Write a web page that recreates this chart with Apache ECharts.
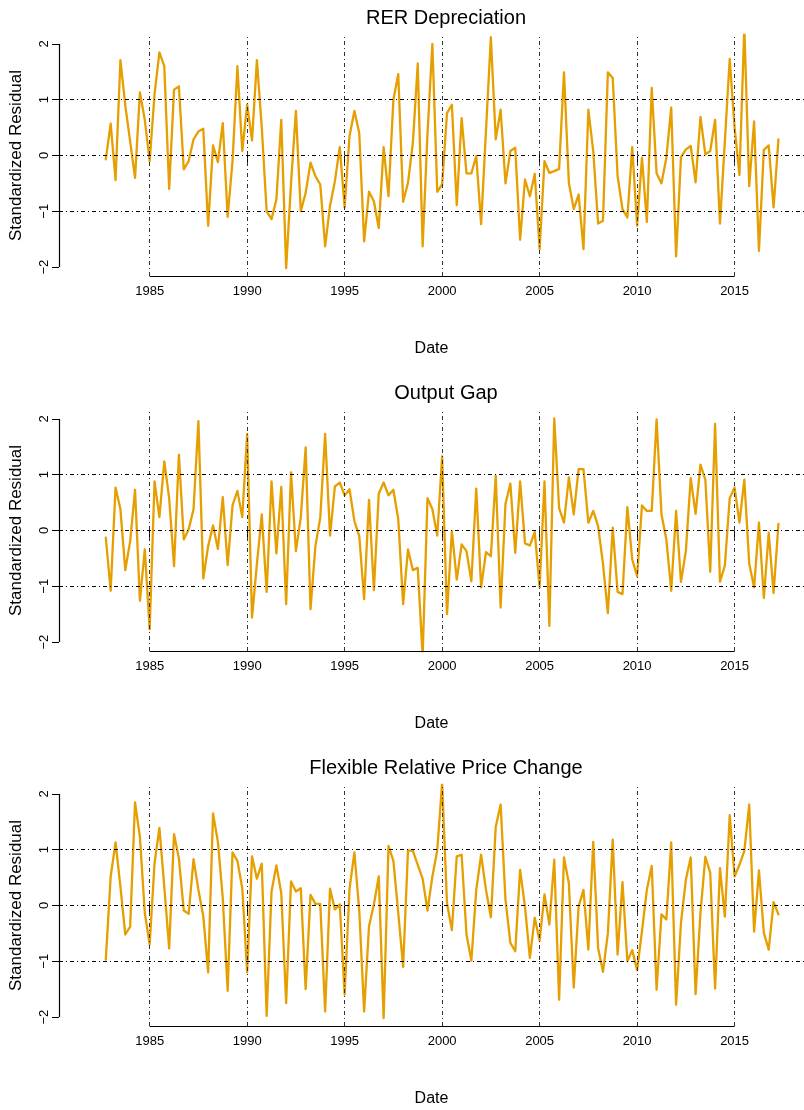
<!DOCTYPE html>
<html>
<head>
<meta charset="utf-8">
<script src="https://cdn.jsdelivr.net/npm/echarts@6/dist/echarts.min.js"></script>
<style>
html,body{margin:0;padding:0;background:#fff;}
#chart{width:804px;height:1110px;}
</style>
</head>
<body>
<div id="chart"></div>
<script>
// Quarterly residuals, 1982Q4 .. 2017Q2
const START_YEAR = 1982.75;
const rerDepreciation = [
-0.07,0.57,-0.44,1.71,0.9,0.25,-0.4,1.13,0.64,-0.10,
1.1,1.85,1.6,-0.6,1.18,1.24,-0.25,-0.1,0.29,0.43,
0.48,-1.26,0.18,-0.12,0.58,-1.1,-0.1,1.6,0.08,0.91,
0.27,1.71,0.5,-1.0,-1.14,-0.79,0.64,-2.02,-0.5,0.80,
-1.0,-0.67,-0.13,-0.37,-0.52,-1.63,-0.9,-0.46,0.15,-0.93,
0.35,0.80,0.40,-1.54,-0.65,-0.82,-1.30,0.15,-0.73,1.0,
1.46,-0.83,-0.49,0.23,1.65,-1.63,0.4,2.0,-0.65,-0.52,
0.76,0.91,-0.89,0.67,-0.32,-0.32,-0.01,-1.23,0.45,2.12,
0.29,0.82,-0.5,0.08,0.14,-1.51,-0.43,-0.73,-0.33,-1.68,
-0.1,-0.31,-0.28,-0.24,1.49,-0.49,-0.96,-0.70,-1.68,0.82,
0.08,-1.22,-1.17,1.49,1.39,-0.37,-0.96,-1.11,0.15,-1.26,
-0.04,-1.19,1.21,-0.32,-0.5,-0.04,0.86,-1.81,-0.03,0.11,
0.17,-0.48,0.69,0.02,0.08,0.64,-1.22,0.25,1.73,0.5,
-0.35,2.3,-0.55,0.61,-1.71,0.1,0.18,-0.93,0.29
];
const outputGap = [
-0.13,-1.08,0.77,0.38,-0.71,-0.19,0.73,-1.26,-0.34,-1.77,
0.88,0.24,1.24,0.58,-0.64,1.36,-0.16,0.02,0.38,1.96,
-0.86,-0.28,0.09,-0.33,0.6,-0.62,0.45,0.71,0.24,1.73,
-1.56,-0.6,0.29,-1.1,0.88,-0.41,0.78,-1.32,1.04,-0.37,
0.23,1.49,-1.41,-0.28,0.23,1.73,-0.09,0.79,0.86,0.63,
0.74,0.17,-0.1,-1.23,0.55,-1.07,0.66,0.86,0.63,0.73,
0.2,-1.32,-0.34,-0.71,-0.67,-2.25,0.58,0.38,-0.09,1.33,
-1.5,-0.01,-0.88,-0.25,-0.37,-0.91,0.75,-1.02,-0.39,-0.46,
0.98,-1.38,0.48,0.84,-0.4,0.88,-0.23,-0.27,-0.03,-1.02,
0.88,-1.71,2.01,0.4,0.14,0.95,0.29,1.1,1.1,0.14,
0.35,0.08,-0.6,-1.48,0.05,-1.1,-1.14,0.42,-0.52,-0.82,
0.45,0.35,0.35,1.99,0.29,-0.16,-1.08,0.35,-0.92,-0.37,
0.94,0.30,1.18,0.91,-0.74,1.91,-0.92,-0.63,0.58,0.77,
0.14,0.91,-0.59,-1.02,0.14,-1.21,-0.04,-1.12,0.12
];
const flexRelPriceChange = [
-0.97,0.52,1.13,0.34,-0.52,-0.38,1.85,1.23,-0.13,-0.70,
0.76,1.39,0.34,-0.77,1.28,0.84,-0.09,-0.15,0.83,0.28,
-0.19,-1.2,1.65,1.14,0.13,-1.53,0.95,0.8,0.31,-1.2,
0.88,0.48,0.75,-1.98,0.25,0.72,0.22,-1.75,0.43,0.25,
0.31,-1.5,0.19,0.03,0.03,-1.9,0.3,-0.07,0.02,-1.6,
0.3,0.95,-0.09,-1.9,-0.37,0.02,0.52,-2.02,1.07,0.8,
-0.13,-1.1,0.99,0.98,0.73,0.48,-0.09,0.52,0.99,2.2,
0.04,-0.44,0.88,0.91,-0.52,-0.99,0.28,0.91,0.28,-0.21,
1.41,1.81,0.1,-0.67,-0.82,0.64,-0.02,-0.94,-0.22,-0.63,
0.2,-0.34,0.82,-1.69,0.86,0.4,-1.47,-0.02,0.28,-0.79,
1.14,-0.76,-1.19,-0.5,1.18,-0.88,0.42,-1.0,-0.8,-1.16,
-0.46,0.28,0.71,-1.51,-0.16,-0.25,1.13,-1.78,-0.31,0.46,
0.86,-1.59,-0.13,0.87,0.59,-1.49,0.67,-0.2,1.62,0.52,
0.73,0.98,1.81,-0.47,0.63,-0.49,-0.79,0.06,-0.16
];
const panelTitles = ["RER Depreciation", "Output Gap", "Flexible Relative Price Change"];
const xTicks = [1985, 1990, 1995, 2000, 2005, 2010, 2015];
const yTicks = [-2, -1, 0, 1, 2];
const hLines = [-1, 0, 1];
const xLabel = "Date";
const yLabel = "Standardized Residual";

const seriesValues = [rerDepreciation, outputGap, flexRelPriceChange];

const FONT = "Liberation Sans, Arial, Helvetica, sans-serif";
const X_MIN = 1980.35, X_MAX = 2018.56;
const Y_MIN = -2.16, Y_MAX = 2.16;
const tops = [35, 410, 785];
const H = 241;
const dashDot = [4, 3, 1, 3];

const grids = [], xAxes = [], yAxes = [], series = [], titles = [];
seriesValues.forEach((vals, p) => {
  grids.push({left: 57, right: 0, top: tops[p], height: H, containLabel: false});
  titles.push({
    text: panelTitles[p], left: 441, textAlign: 'center', top: tops[p] - 32,
    textStyle: {fontFamily: FONT, fontSize: 20, fontWeight: 'normal', color: '#000'}
  });
  xAxes.push({
    type: 'value', gridIndex: p, min: X_MIN, max: X_MAX,
    axisLine: {show: false},
    splitLine: {show: false},
    axisTick: {show: true, customValues: xTicks, length: 7, lineStyle: {color: '#000', width: 1}},
    axisLabel: {show: true, customValues: xTicks, margin: 9, color: '#000', fontFamily: FONT, fontSize: 13,
      formatter: v => String(Math.round(v))},
    name: xLabel, nameLocation: 'middle', nameGap: 65,
    nameTextStyle: {fontFamily: FONT, fontSize: 16, color: '#000'}
  });
  yAxes.push({
    type: 'value', gridIndex: p, min: Y_MIN, max: Y_MAX,
    axisLine: {show: false},
    splitLine: {show: false},
    axisTick: {show: true, customValues: yTicks, length: 7, lineStyle: {color: '#000', width: 1}},
    axisLabel: {show: true, customValues: yTicks, rotate: 90, margin: 8, color: '#000', fontFamily: FONT, fontSize: 13,
      formatter: v => String(Math.round(v)).replace('-', '\u2212')},
    name: yLabel, nameLocation: 'middle', nameRotate: 90, nameGap: 34,
    nameTextStyle: {fontFamily: FONT, fontSize: 17, color: '#000'}
  });
  const mlData = [];
  xTicks.forEach(t => mlData.push({xAxis: t, lineStyle: {type: dashDot, color: '#333', width: 1}}));
  hLines.forEach(h => mlData.push({yAxis: h, lineStyle: {type: dashDot, color: '#000', width: 1}}));
  // axis lines spanning first to last tick (R style)
  mlData.push([{coord: [xTicks[0], Y_MIN], lineStyle: {type: 'solid', color: '#000', width: 1.2}},
               {coord: [xTicks[xTicks.length - 1], Y_MIN]}]);
  mlData.push([{coord: [X_MIN, yTicks[0]], lineStyle: {type: 'solid', color: '#000', width: 1.2}},
               {coord: [X_MIN, yTicks[yTicks.length - 1]]}]);
  series.push({
    type: 'line', xAxisIndex: p, yAxisIndex: p,
    data: vals.map((v, i) => [START_YEAR + i / 4, v]),
    showSymbol: false, symbol: 'none', clip: true,
    lineStyle: {color: '#E69F00', width: 2.3, join: 'round', cap: 'round'},
    animation: false, z: 3,
    markLine: {
      silent: true, symbol: ['none', 'none'], animation: false,
      label: {show: false}, emphasis: {disabled: true},
      data: mlData
    }
  });
});

const chart = echarts.init(document.getElementById('chart'), null, {renderer: 'canvas'});
chart.setOption({
  backgroundColor: '#fff',
  animation: false,
  title: titles,
  grid: grids,
  xAxis: xAxes,
  yAxis: yAxes,
  series: series
});
</script>
</body>
</html>
